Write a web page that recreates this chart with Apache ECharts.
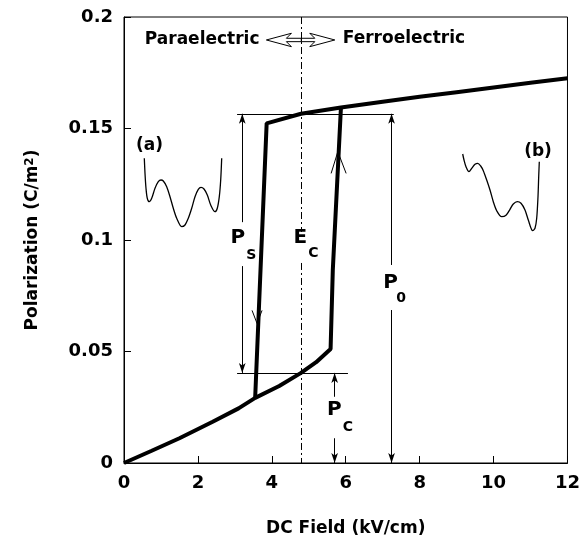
<!DOCTYPE html>
<html>
<head>
<meta charset="utf-8">
<script src="https://cdn.jsdelivr.net/npm/echarts@6/dist/echarts.min.js"></script>
<style>html,body{margin:0;padding:0;background:#fff}#main{width:583px;height:543px}</style>
</head>
<body>
<div id="main"></div>
<script>
const fontFam = 'DejaVu Sans';

// rising branch: lower curve, then switching near E ~ 5.6 kV/cm
const upE = [0, 0.75, 1.5, 2.4, 3.1, 3.55, 4.2, 4.78, 5.2, 5.59, 5.65, 5.87];
const upP = [0, 0.0055, 0.0111, 0.0185, 0.0245, 0.0292, 0.0345, 0.0403, 0.0452, 0.0511, 0.0865, 0.1594];
// falling branch: switching near E ~ 3.6, joined to the saturated upper curve
const downE = [3.55, 3.86, 4.79, 5.87, 7, 8, 9, 10, 11, 12];
const downP = [0.0295, 0.1523, 0.1566, 0.1594, 0.1620, 0.1642, 0.1663, 0.1684, 0.1705, 0.1725];

// guide levels
const ecField = 4.8;
const psLevel = 0.1566, pcLevel = 0.0404;
const psField = 3.2, p0Field = 7.24, pcField = 5.7;

// potential wells of the insets (local units, y down)
const wellAx = [14.3, 15, 16, 17.3, 19.3, 21.7, 25, 28.3, 31, 33.3, 36.7, 40, 43.3, 46.7, 51.7, 55, 58.3, 61.7, 65, 68.3, 71, 74, 77.3, 80.7, 85, 87.3, 89.3, 90.7, 91.7];
const wellAy = [28.3, 43.3, 58.3, 68.3, 71.7, 68.3, 58.3, 51.7, 50, 51, 56.7, 66.7, 78.3, 88.3, 96.7, 95, 88.3, 78.3, 66.7, 59.3, 57.3, 59, 65, 75, 81.7, 78.3, 66.7, 50, 28.3];
const wellBx = [12.7, 14, 16, 19, 21.7, 25, 27.7, 30.7, 33.3, 36.7, 40, 43.3, 46.7, 51.7, 56, 60, 63.3, 67.3, 71, 75, 78.3, 82.7, 85, 86.7, 88, 88.7, 89.3];
const wellBy = [24, 30, 36.7, 41.7, 38.3, 34.3, 33.3, 36, 40.7, 50, 60, 71.7, 80.7, 86.7, 85.3, 79.3, 74, 71.7, 73.3, 80, 90, 100.7, 98.3, 88.3, 66.7, 46.7, 31.7];

const zip = (a, b) => a.map((v, i) => [v, b[i]]);
const arrowHead = {symbol: 'arrow', symbolSize: [5, 10]};

function seg(a, b, head) {
    return [{coord: a, symbol: 'none'}, Object.assign({coord: b}, head ? arrowHead : {symbol: 'none'})];
}

let chart = echarts.init(document.getElementById('main'));

let option = {
    animation: false,
    backgroundColor: '#fff',
    grid: [
        {left: 124, top: 17, width: 448, height: 446, show: true, borderColor: '#000', borderWidth: 1},
        {left: 130, top: 130, width: 100, height: 110},
        {left: 450, top: 130, width: 100, height: 110}
    ],
    xAxis: [
        {
            gridIndex: 0, type: 'value', min: 0, max: 12, interval: 2,
            name: 'DC Field (kV/cm)', nameLocation: 'middle', nameGap: 57,
            nameTextStyle: {fontFamily: fontFam, fontSize: 17, fontWeight: 'bold', color: '#000'},
            axisLine: {lineStyle: {color: '#000', width: 1}},
            axisTick: {inside: true, length: 7, lineStyle: {color: '#000'}},
            axisLabel: {margin: 11, fontFamily: fontFam, fontSize: 18, fontWeight: 'bold', color: '#000'},
            splitLine: {show: false}
        },
        {gridIndex: 1, type: 'value', min: 0, max: 100, show: false},
        {gridIndex: 2, type: 'value', min: 0, max: 100, show: false}
    ],
    yAxis: [
        {
            gridIndex: 0, type: 'value', min: 0, max: 0.2, interval: 0.05,
            name: 'Polarization (C/m{sup|2})', nameLocation: 'middle', nameGap: 83,
            nameTextStyle: {fontFamily: fontFam, fontSize: 17, fontWeight: 'bold', color: '#000',
                rich: {sup: {fontFamily: fontFam, fontSize: 12, fontWeight: 'bold', color: '#000', verticalAlign: 'top'}}},
            axisLine: {lineStyle: {color: '#000', width: 1}},
            axisTick: {inside: true, length: 7, lineStyle: {color: '#000'}},
            axisLabel: {margin: 11, fontFamily: fontFam, fontSize: 18, fontWeight: 'bold', color: '#000'},
            splitLine: {show: false}
        },
        {gridIndex: 1, type: 'value', min: 0, max: 110, inverse: true, show: false},
        {gridIndex: 2, type: 'value', min: 0, max: 110, inverse: true, show: false}
    ],
    series: [
        {
            name: 'rising', type: 'line', xAxisIndex: 0, yAxisIndex: 0,
            data: zip(upE, upP), showSymbol: false,
            lineStyle: {color: '#000', width: 4}, z: 5,
            markLine: {
                silent: true, symbol: 'none', label: {show: false},
                lineStyle: {color: '#000', width: 1, type: 'solid'},
                data: [
                    seg([3.06, psLevel], [7.3, psLevel]),
                    seg([3.06, pcLevel], [6.06, pcLevel]),
                    seg([psField, 0.108], [psField, psLevel], true),
                    seg([psField, 0.0883], [psField, pcLevel], true),
                    seg([p0Field, 0.0888], [p0Field, psLevel], true),
                    seg([p0Field, 0.0686], [p0Field, 0], true),
                    seg([pcField, 0.0297], [pcField, pcLevel], true),
                    seg([pcField, 0.0111], [pcField, 0], true)
                ]
            }
        },
        {
            name: 'falling', type: 'line', xAxisIndex: 0, yAxisIndex: 0,
            data: zip(downE, downP), showSymbol: false,
            lineStyle: {color: '#000', width: 4}, z: 5,
            markLine: {
                silent: true, symbol: 'none', label: {show: false},
                lineStyle: {color: '#000', width: 1, type: [7, 3, 2, 3]},
                data: [
                    seg([ecField, 0.2], [ecField, 0.1036]),
                    seg([ecField, 0.0897], [ecField, 0])
                ]
            }
        },
        {
            name: 'well a', type: 'line', xAxisIndex: 1, yAxisIndex: 1,
            data: zip(wellAx, wellAy), showSymbol: false, smooth: 0.3,
            lineStyle: {color: '#000', width: 1.3}
        },
        {
            name: 'well b', type: 'line', xAxisIndex: 2, yAxisIndex: 2,
            data: zip(wellBx, wellBy), showSymbol: false, smooth: 0.3,
            lineStyle: {color: '#000', width: 1.3}
        }
    ]
};
chart.setOption(option);

// annotations placed through the axes
function px(p, g) { return chart.convertToPixel({gridIndex: g || 0}, p); }
function txt(p, text, size, weight, align, g) {
    let q = px(p, g);
    return {type: 'text', x: q[0], y: q[1], z: 20,
        style: {text: text, fontFamily: fontFam, fontSize: size, fontWeight: weight || 'normal',
            fill: '#000', align: align || 'center', verticalAlign: 'middle'}};
}
function symLabel(p, main, sub, dx, dy) {
    let q = px(p);
    return [
        {type: 'text', x: q[0], y: q[1], z: 20,
            style: {text: main, fontFamily: fontFam, fontSize: 20, fontWeight: 'bold', fill: '#000', align: 'center', verticalAlign: 'middle'}},
        {type: 'text', x: q[0] + dx, y: q[1] + dy, z: 20,
            style: {text: sub, fontFamily: fontFam, fontSize: 14, fontWeight: 'bold', fill: '#000', align: 'center', verticalAlign: 'middle'}}
    ];
}
function shape(p, pts, closed) {
    let q = px(p);
    return {type: closed ? 'polygon' : 'polyline', x: q[0], y: q[1], z: 20,
        shape: {points: pts}, style: {fill: null, stroke: '#000', lineWidth: 1}};
}

let graphics = [
    txt([0.5625, 0.1899], 'Paraelectric', 17, 'bold', 'left'),
    txt([5.92, 0.1903], 'Ferroelectric', 17, 'bold', 'left'),
    shape([ecField, 0.1897], [[-35, 0], [-10, -6.7], [-15, -1.7], [0, -1.7], [0, 1.7], [-15, 1.7], [-10, 6.7]], true),
    shape([ecField, 0.1897], [[33.4, 0], [8.4, -6.7], [13.4, -1.7], [0, -1.7], [0, 1.7], [13.4, 1.7], [8.4, 6.7]], true),
    shape([3.60, 0.0626], [[-5, -13], [0, 0], [5, -13]]),
    shape([5.786, 0.1396], [[-6.7, 21.7], [0, 0], [8.3, 21.7]]),
    txt([19.5, 16], '(a)', 17, 'bold', 'center', 1),
    txt([88, 21.7], '(b)', 17, 'bold', 'center', 2)
]
.concat(symLabel([3.08, 0.1011], 'P', 'S', 13.5, 17.5))
.concat(symLabel([4.77, 0.1011], 'E', 'C', 13, 16))
.concat(symLabel([7.21, 0.0809], 'P', '0', 10.7, 15.5))
.concat(symLabel([5.69, 0.0238], 'P', 'C', 13.5, 17.5));

chart.setOption({graphic: graphics});

window.addEventListener('resize', function () {
    chart.resize();
});
</script>
</body>
</html>
